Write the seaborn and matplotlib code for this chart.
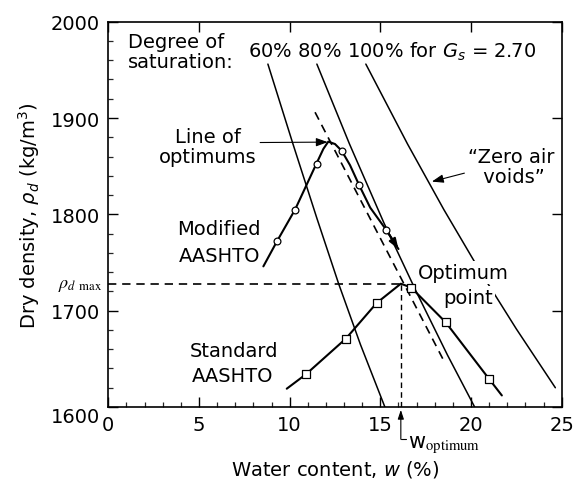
import matplotlib
matplotlib.use("Agg")
import matplotlib.pyplot as plt
import matplotlib.transforms as mtransforms
from matplotlib.ticker import MultipleLocator
import seaborn as sns

# Modified AASHTO compaction test
mod_w = [9.3, 10.3, 11.5, 12.9, 13.8, 15.3]
mod_rho = [1772, 1805, 1852, 1866, 1830, 1784]
mod_curve_w = [8.55, 9.3, 10.3, 11.46, 11.86, 12.13, 12.5, 12.87, 13.33, 13.84, 14.44, 15.32, 16.0]
mod_curve_rho = [1746, 1772, 1805, 1852, 1868, 1875.5, 1873, 1866, 1851, 1830, 1807, 1784, 1764]

# Standard AASHTO compaction test
std_w = [10.9, 13.1, 14.8, 16.7, 18.6, 21.0]
std_rho = [1634, 1671, 1708, 1724, 1688, 1629]
std_curve_w = [9.84, 10.9, 13.1, 14.8, 16.13, 16.7, 18.6, 21.0, 21.7]
std_curve_rho = [1619, 1634, 1671, 1708, 1728, 1724, 1688, 1629, 1612]

# Degree of saturation lines (Gs = 2.70)
sat60_w = [8.8, 10.2, 11.5, 12.7, 13.9, 15.25]
sat60_rho = [1956, 1872, 1796, 1728, 1665, 1600]
sat80_w = [11.5, 13.3, 15.2, 17.0, 18.7, 20.2]
sat80_rho = [1956, 1873, 1791, 1719, 1654, 1600]
sat100_w = [14.2, 16.5, 18.5, 20.5, 22.5, 24.65]
sat100_rho = [1956, 1873, 1805, 1741, 1681, 1620]

# Line of optimums
opt_line_w = [11.4, 18.5]
opt_line_rho = [1906, 1648]

# Optimum point of the standard test
w_opt = 16.13
rho_max = 1728

x_ticks = [0, 5, 10, 15, 20, 25]
y_ticks = [1600, 1700, 1800, 1900, 2000]

sns.set_theme(style="ticks")
plt.rcParams["font.family"] = ["DejaVu Sans"]
plt.rcParams["mathtext.fontset"] = "dejavusans"

FS = 14
K = "black"
HEAD = "-|>,head_length=0.5,head_width=0.18"

fig = plt.figure(figsize=(5.76, 4.89), dpi=100)
ax = fig.add_axes([108.3 / 576, 1 - 408 / 489, (561.7 - 108.3) / 576, (408 - 22.7) / 489])
ax.set_facecolor("white")

# saturation lines
for w, r in [(sat60_w, sat60_rho), (sat80_w, sat80_rho), (sat100_w, sat100_rho)]:
    sns.lineplot(x=w, y=r, ax=ax, color=K, lw=1.1, sort=False, estimator=None, zorder=2)

# line of optimums
sns.lineplot(x=opt_line_w, y=opt_line_rho, ax=ax, color=K, lw=1.2,
             linestyle=(0, (5, 3.5)), sort=False, estimator=None, zorder=2)

# compaction curves
sns.lineplot(x=mod_curve_w, y=mod_curve_rho, ax=ax, color=K, lw=1.5,
             sort=False, estimator=None, zorder=3)
sns.lineplot(x=std_curve_w, y=std_curve_rho, ax=ax, color=K, lw=1.5,
             sort=False, estimator=None, zorder=3)
ax.annotate("", xy=(mod_curve_w[-1], mod_curve_rho[-1]),
            xytext=(mod_curve_w[-2], mod_curve_rho[-2]),
            arrowprops=dict(arrowstyle=HEAD, color=K, lw=1.5, shrinkA=0, shrinkB=0),
            zorder=3)

sns.scatterplot(x=mod_w, y=mod_rho, ax=ax, marker="o", s=24, facecolor="white",
                edgecolor=K, linewidth=0.9, zorder=4)
sns.scatterplot(x=std_w, y=std_rho, ax=ax, marker="s", s=40, facecolor="white",
                edgecolor=K, linewidth=0.9, zorder=4)

# optimum guide lines
ax.plot([0, w_opt], [rho_max, rho_max], color=K, lw=1.2, linestyle=(0, (5, 3.5)), zorder=2)
ax.plot([w_opt, w_opt], [1600, rho_max], color=K, lw=1.0, linestyle=(0, (4, 3)), zorder=2)

ax.set_xlim(0, 25)
ax.set_ylim(1600, 2000)
ax.set_xticks(x_ticks)
ax.set_yticks(y_ticks)
ax.xaxis.set_minor_locator(MultipleLocator(1))
ax.yaxis.set_minor_locator(MultipleLocator(20))
ax.tick_params(which="major", direction="in", length=7, width=1.0, labelsize=FS,
               colors=K, pad=6, top=True, right=True)
ax.tick_params(which="minor", direction="in", length=3.5, width=0.9,
               top=False, right=False)
for sp in ax.spines.values():
    sp.set_visible(True)
    sp.set_linewidth(1.2)
    sp.set_color(K)

# nudge the shared-corner label down
lab = ax.get_yticklabels()[0]
lab.set_transform(lab.get_transform() + mtransforms.ScaledTranslation(0, -8 / 100, fig.dpi_scale_trans))

ax.set_xlabel(r"Water content, $w$ (%)", fontsize=FS, color=K, labelpad=17)
ax.set_ylabel(r"Dry density, $\rho_d$ (kg/m$^3$)", fontsize=FS, color=K, labelpad=6)

# annotations
ax.text(1.1, 1969, "Degree of\nsaturation:", fontsize=FS, ha="left", va="center",
        linespacing=1.05, color=K)
ax.text(7.72, 1970, r"60% 80% 100% for $G_s$ = 2.70", fontsize=FS, ha="left",
        va="center", color=K)
ax.annotate("Line of\noptimums", xy=(12.1, 1875), xytext=(5.5, 1870.5),
            fontsize=FS, ha="center", va="center", linespacing=1.05, color=K,
            arrowprops=dict(arrowstyle=HEAD, color=K, lw=0.8, shrinkA=0, shrinkB=0,
                            relpos=(0.95, 0.6)), zorder=5)
ax.text(8.4, 1785, "Modified", fontsize=FS, ha="right", va="center", color=K)
ax.text(8.4, 1757, "AASHTO", fontsize=FS, ha="right", va="center", color=K)
ax.text(4.5, 1658.5, "Standard", fontsize=FS, ha="left", va="center", color=K)
ax.text(4.6, 1633, "AASHTO", fontsize=FS, ha="left", va="center", color=K)
# white boxes mask only the saturation line behind the label
ax.text(19.6, 1740, "Optimum", fontsize=FS, ha="center", va="center", color=K,
        zorder=2.5, bbox=dict(facecolor="white", edgecolor="none", pad=1.5))
ax.text(19.85, 1714, "point", fontsize=FS, ha="center", va="center", color=K,
        zorder=2.5, bbox=dict(facecolor="white", edgecolor="none", pad=1.5))
ax.annotate("\u201cZero air\n voids\u201d", xy=(17.84, 1834), xytext=(22.2, 1850),
            fontsize=FS, ha="center", va="center", linespacing=1.05, color=K,
            arrowprops=dict(arrowstyle=HEAD, color=K, lw=0.8, shrinkA=0, shrinkB=0,
                            relpos=(0.03, 0.36)), zorder=5)

# rho_d max label left of the axis
ax.text(-0.35, rho_max, r"$\rho_d\;_{\mathrm{max}}$", fontsize=13, ha="right",
        va="center", color=K, math_fontfamily="stix", clip_on=False)

# w_optimum leader below the axis
ax.annotate("", xy=(w_opt, 1597), xytext=(w_opt, 1566.5),
            arrowprops=dict(arrowstyle="-|>,head_length=0.45,head_width=0.15",
                            color=K, lw=0.8, shrinkA=0, shrinkB=0),
            annotation_clip=False)
ax.plot([w_opt, w_opt + 0.3], [1566.5, 1566.5], color=K, lw=0.8, clip_on=False)
ax.text(16.55, 1561, r"w$_{\mathrm{optimum}}$", fontsize=15, ha="left", va="center",
        color=K, math_fontfamily="stix")

fig.savefig("out.png", dpi=100, facecolor="white")
